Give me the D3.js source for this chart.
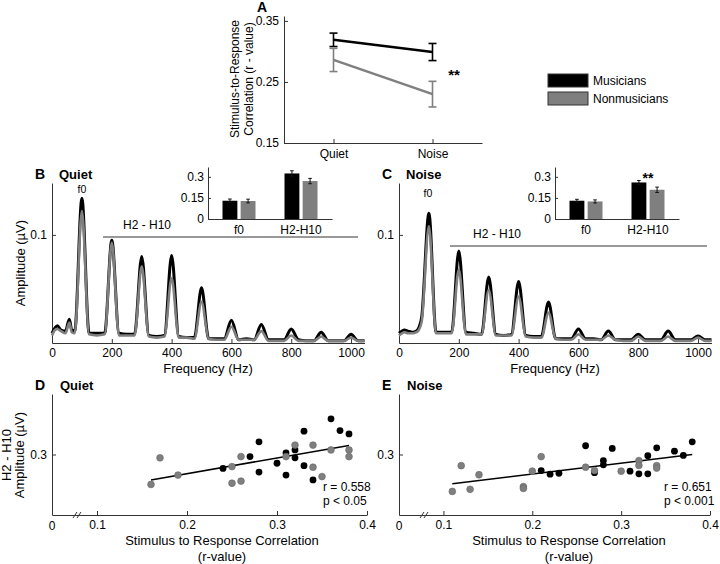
<!DOCTYPE html>
<html lang="en">
<head>
<meta charset="utf-8">
<title>Stimulus-to-response correlation, musicians vs nonmusicians</title>
<script src="https://cdn.jsdelivr.net/npm/d3@7"></script>
<style>
  body { margin: 0; background: #fff; }
  svg text { font-family: "Liberation Sans", Arial, Helvetica, sans-serif; fill: #000; }
  .axis path, .axis line { stroke: #333; stroke-width: 1; }
  .axis text { font-size: 12px; }
  .title { font-size: 13px; }
  .letter { font-size: 14px; font-weight: bold; }
  .ptitle { font-size: 13px; font-weight: bold; }
</style>
</head>
<body>
<div id="fig"></div>
<script>
// ---------- values ----------
var groups = ["Musicians", "Nonmusicians"];
var conditions = ["Quiet", "Noise"];

// A: stimulus-to-response correlation (mean, s.e.)
var musCorr = [0.319, 0.299];
var musCorrErr = [0.011, 0.014];
var nonCorr = [0.286, 0.230];
var nonCorrErr = [0.019, 0.021];

// B, C: spectra (Hz, amplitude in uV)
var spectrumHz = [0, 10, 18, 30, 45, 58, 66, 76, 100, 124, 150, 176, 200, 224, 250, 276, 300, 324, 350, 376,
                  400, 424, 450, 476, 500, 524, 550, 576, 600, 624, 650, 676, 700, 724, 750, 776, 800, 824,
                  850, 876, 900, 924, 950, 976, 1000, 1024, 1045];
var quietMusAmp = [0.009, 0.014, 0.016, 0.012, 0.011, 0.022, 0.012, 0.011, 0.134, 0.009, 0.009, 0.009, 0.095, 0.009,
                   0.008, 0.008, 0.080, 0.007, 0.006, 0.007, 0.081, 0.006, 0.005, 0.005, 0.051, 0.004, 0.004, 0.004,
                   0.021, 0.003, 0.004, 0.003, 0.017, 0.003, 0.003, 0.003, 0.013, 0.003, 0.002, 0.002, 0.010, 0.002,
                   0.002, 0.002, 0.008, 0.002, 0.002];
var quietNonAmp = [0.007, 0.012, 0.013, 0.011, 0.009, 0.019, 0.010, 0.009, 0.122, 0.008, 0.007, 0.008, 0.093, 0.007,
                   0.007, 0.007, 0.071, 0.006, 0.005, 0.006, 0.060, 0.005, 0.005, 0.004, 0.038, 0.004, 0.003, 0.003,
                   0.015, 0.003, 0.003, 0.003, 0.011, 0.002, 0.002, 0.002, 0.007, 0.002, 0.002, 0.002, 0.006, 0.002,
                   0.002, 0.002, 0.005, 0.002, 0.002];
var noiseMusAmp = [0.009, 0.011, 0.012, 0.011, 0.010, 0.011, 0.014, 0.024, 0.120, 0.010, 0.010, 0.010, 0.085, 0.010,
                   0.009, 0.008, 0.061, 0.008, 0.007, 0.008, 0.057, 0.007, 0.006, 0.006, 0.038, 0.004, 0.004, 0.004,
                   0.013, 0.004, 0.004, 0.003, 0.011, 0.003, 0.003, 0.003, 0.008, 0.003, 0.003, 0.003, 0.011, 0.003,
                   0.003, 0.003, 0.0065, 0.003, 0.003];
var noiseNonAmp = [0.007, 0.009, 0.010, 0.009, 0.009, 0.010, 0.012, 0.020, 0.108, 0.009, 0.009, 0.009, 0.068, 0.008,
                   0.008, 0.008, 0.049, 0.007, 0.007, 0.007, 0.043, 0.006, 0.005, 0.005, 0.028, 0.004, 0.003, 0.003,
                   0.008, 0.003, 0.003, 0.003, 0.007, 0.003, 0.002, 0.002, 0.006, 0.002, 0.002, 0.002, 0.006, 0.002,
                   0.002, 0.002, 0.005, 0.002, 0.002];

// insets: mean amplitude per band
var bands = ["f0", "H2-H10"];
var quietBarMus = [0.130, 0.324];
var quietBarMusErr = [0.012, 0.019];
var quietBarNon = [0.128, 0.270];
var quietBarNonErr = [0.013, 0.019];
var noiseBarMus = [0.130, 0.260];
var noiseBarMusErr = [0.010, 0.014];
var noiseBarNon = [0.125, 0.208];
var noiseBarNonErr = [0.011, 0.019];

// D: quiet, r-value vs H2-H10 amplitude
var quietMusR   = [0.24, 0.27, 0.28, 0.28, 0.30, 0.31, 0.31, 0.32, 0.32, 0.33, 0.33, 0.34, 0.36, 0.37, 0.38];
var quietMusH   = [0.254, 0.293, 0.342, 0.242, 0.271, 0.305, 0.232, 0.315, 0.289, 0.377, 0.263, 0.216, 0.418, 0.379, 0.368];
var quietNonR   = [0.16, 0.17, 0.19, 0.25, 0.25, 0.26, 0.26, 0.31, 0.32, 0.34, 0.34, 0.35, 0.36, 0.38, 0.38];
var quietNonH   = [0.201, 0.289, 0.232, 0.260, 0.205, 0.293, 0.212, 0.293, 0.331, 0.331, 0.258, 0.227, 0.315, 0.315, 0.293];
var quietFitR   = [0.16, 0.38];
var quietFitH   = [0.216, 0.330];

// E: noise
var noiseMusR   = [0.21, 0.22, 0.23, 0.26, 0.27, 0.28, 0.28, 0.29, 0.31, 0.32, 0.33, 0.33, 0.34, 0.36, 0.37, 0.38];
var noiseMusH   = [0.247, 0.235, 0.238, 0.329, 0.240, 0.280, 0.266, 0.320, 0.245, 0.236, 0.296, 0.236, 0.322, 0.311, 0.297, 0.342];
var noiseNonR   = [0.11, 0.12, 0.13, 0.14, 0.19, 0.19, 0.20, 0.21, 0.26, 0.27, 0.30, 0.32, 0.32, 0.34, 0.34];
var noiseNonH   = [0.178, 0.263, 0.185, 0.233, 0.194, 0.188, 0.245, 0.293, 0.258, 0.247, 0.245, 0.280, 0.264, 0.263, 0.255];
var noiseFitR   = [0.11, 0.38];
var noiseFitH   = [0.203, 0.300];

var black = "#000000";
var grey = "#7f7f7f";

var svg = d3.select("#fig").append("svg")
    .attr("width", 720).attr("height", 564)
    .style("background", "#fff");

drawPanelA();
drawSpectrum(52, quietMusAmp, quietNonAmp, {letter: "B", title: "Quiet", f0y: 193, f0x: 82,
    harmY: 237, harmX: [103, 358], harmLabelX: 147, yTitle: true});
drawSpectrum(399, noiseMusAmp, noiseNonAmp, {letter: "C", title: "Noise", f0y: 197, f0x: 428,
    harmY: 246, harmX: [450, 707], harmLabelX: 497, yTitle: false});
drawInset(208, quietBarMus, quietBarMusErr, quietBarNon, quietBarNonErr, false);
drawInset(555, noiseBarMus, noiseBarMusErr, noiseBarNon, noiseBarNonErr, true);
drawScatter(52, 315, quietMusR, quietMusH, quietNonR, quietNonH, quietFitR, quietFitH,
    {letter: "D", title: "Quiet", r: "r = 0.558", p: "p < 0.05", statX: 323, yTitle: true});
drawScatter(399, 311, noiseMusR, noiseMusH, noiseNonR, noiseNonH, noiseFitR, noiseFitH,
    {letter: "E", title: "Noise", r: "r = 0.651", p: "p < 0.001", statX: 664, yTitle: false});

// inward ticks, matlab style
function styleAxis(sel) {
    sel.attr("class", "axis");
    sel.select(".domain").attr("fill", "none");
}

function drawPanelA() {
    var x = d3.scalePoint().domain(conditions).range([284, 482]).padding(0.5);
    var y = d3.scaleLinear().domain([0.15, 0.358]).range([143, 16]);
    var g = svg.append("g");

    g.append("g").attr("transform", "translate(284,0)")
        .call(d3.axisLeft(y).tickValues([0.15, 0.25, 0.35]).tickFormat(d3.format(".2f"))
            .tickSizeInner(-4).tickSizeOuter(0).tickPadding(5))
        .call(styleAxis);
    g.append("g").attr("transform", "translate(0,143)")
        .call(d3.axisBottom(x).tickSizeInner(-4).tickSizeOuter(0).tickPadding(6))
        .call(styleAxis);

    var series = [
        {mean: musCorr, err: musCorrErr, color: black},
        {mean: nonCorr, err: nonCorrErr, color: grey}
    ];
    var line = d3.line().x(function (d, i) { return x(conditions[i]); }).y(function (d) { return y(d); });
    series.forEach(function (s) {
        g.append("path").attr("d", line(s.mean)).attr("fill", "none")
            .attr("stroke", s.color).attr("stroke-width", 2.4);
        s.mean.forEach(function (m, i) {
            var cx = x(conditions[i]);
            var y0 = y(m - s.err[i]), y1 = y(m + s.err[i]);
            g.append("line").attr("x1", cx).attr("x2", cx).attr("y1", y0).attr("y2", y1)
                .attr("stroke", s.color).attr("stroke-width", 1.6);
            [y0, y1].forEach(function (yy) {
                g.append("line").attr("x1", cx - 4).attr("x2", cx + 4).attr("y1", yy).attr("y2", yy)
                    .attr("stroke", s.color).attr("stroke-width", 1.6);
            });
        });
    });

    g.append("text").attr("x", 454).attr("y", 80).attr("text-anchor", "middle")
        .style("font-size", "15px").style("font-weight", "bold").text("**");

    g.append("text").attr("class", "title").attr("transform", "translate(239,79) rotate(-90)")
        .attr("text-anchor", "middle").style("font-size", "12px").text("Stimulus-to-Response");
    g.append("text").attr("class", "title").attr("transform", "translate(253,79) rotate(-90)")
        .attr("text-anchor", "middle").style("font-size", "12px").text("Correlation (r - value)");

    g.append("text").attr("class", "letter").attr("x", 262).attr("y", 12)
        .attr("text-anchor", "middle").text("A");

    // legend
    var leg = g.append("g").attr("transform", "translate(548,74)");
    groups.forEach(function (name, i) {
        leg.append("rect").attr("x", 0).attr("y", i * 18).attr("width", 40).attr("height", 13)
            .attr("fill", i === 0 ? black : grey).attr("stroke", "#333").attr("stroke-width", 1);
        leg.append("text").attr("x", 45).attr("y", i * 18 + 11).style("font-size", "12px").text(name);
    });
}

function drawSpectrum(x0, musAmp, nonAmp, o) {
    var x = d3.scaleLinear().domain([0, 1045]).range([x0, x0 + 312.5]);
    var y = d3.scaleLinear().domain([0, 0.148]).range([343, 183]);
    var g = svg.append("g");

    g.append("g").attr("transform", "translate(" + x0 + ",0)")
        .call(d3.axisLeft(y).tickValues([0.1]).tickFormat(d3.format(".1f"))
            .tickSizeInner(-4).tickSizeOuter(0).tickPadding(5))
        .call(styleAxis);
    g.append("g").attr("transform", "translate(0,343)")
        .call(d3.axisBottom(x).tickValues([0, 200, 400, 600, 800, 1000]).tickFormat(d3.format("d"))
            .tickSizeInner(-4).tickSizeOuter(0).tickPadding(5))
        .call(styleAxis);

    var line = d3.line().curve(d3.curveMonotoneX)
        .x(function (d, i) { return x(spectrumHz[i]); })
        .y(function (d) { return y(d); });
    g.append("path").attr("d", line(musAmp)).attr("fill", "none")
        .attr("stroke", black).attr("stroke-width", 3).attr("stroke-linejoin", "round");
    g.append("path").attr("d", line(nonAmp)).attr("fill", "none")
        .attr("stroke", grey).attr("stroke-width", 2.6).attr("stroke-linejoin", "round");

    g.append("text").attr("x", o.f0x).attr("y", o.f0y).attr("text-anchor", "middle")
        .style("font-size", "10.5px").text("f0");
    g.append("line").attr("x1", o.harmX[0]).attr("x2", o.harmX[1]).attr("y1", o.harmY).attr("y2", o.harmY)
        .attr("stroke", "#333").attr("stroke-width", 1);
    g.append("text").attr("x", o.harmLabelX)
        .attr("y", o.harmY - 8).attr("text-anchor", "middle").style("font-size", "12px").text("H2 - H10");

    g.append("text").attr("class", "letter").attr("x", x0 - 17).attr("y", 179).text(o.letter);
    g.append("text").attr("class", "ptitle").attr("x", x0 + 7).attr("y", 179).text(o.title);

    g.append("text").attr("class", "title").attr("x", x0 + 156).attr("y", 373)
        .attr("text-anchor", "middle").text("Frequency (Hz)");
    if (o.yTitle) {
        g.append("text").attr("class", "title").attr("transform", "translate(25,263) rotate(-90)")
            .attr("text-anchor", "middle").text("Amplitude (\u00b5V)");
    }
}

function drawInset(x0, musV, musE, nonV, nonE, star) {
    var xo = d3.scaleBand().domain(bands).range([x0, x0 + 124]);
    var xi = d3.scaleBand().domain(groups).range([0, 33]).paddingInner(0.18);
    var y = d3.scaleLinear().domain([0, 0.37]).range([219, 167]);
    var g = svg.append("g");

    g.append("g").attr("transform", "translate(" + x0 + ",0)")
        .call(d3.axisLeft(y).tickValues([0, 0.15, 0.3])
            .tickFormat(function (d) { return d === 0 ? "0" : d3.format(".2~f")(d); })
            .tickSizeInner(-3).tickSizeOuter(0).tickPadding(4))
        .call(styleAxis);
    g.append("g").attr("transform", "translate(0,219)")
        .call(d3.axisBottom(xo).tickSize(0).tickPadding(6))
        .call(styleAxis);

    var rows = [
        {vals: musV, errs: musE, color: black, key: groups[0]},
        {vals: nonV, errs: nonE, color: grey, key: groups[1]}
    ];
    rows.forEach(function (r) {
        var bx = function (i) { return xo(bands[i]) + xo.bandwidth() / 2 - 16.5 + xi(r.key); };
        g.selectAll(null).data(r.vals).enter().append("rect")
            .attr("x", function (d, i) { return bx(i); })
            .attr("y", function (d) { return y(d); })
            .attr("width", xi.bandwidth())
            .attr("height", function (d) { return 219 - y(d); })
            .attr("fill", r.color);
        r.vals.forEach(function (v, i) {
            var cx = bx(i) + xi.bandwidth() / 2;
            var ya = y(v - r.errs[i]), yb = y(v + r.errs[i]);
            g.append("line").attr("x1", cx).attr("x2", cx).attr("y1", ya).attr("y2", yb)
                .attr("stroke", "#111").attr("stroke-width", 1);
            [ya, yb].forEach(function (yy) {
                g.append("line").attr("x1", cx - 1.8).attr("x2", cx + 1.8).attr("y1", yy).attr("y2", yy)
                    .attr("stroke", "#111").attr("stroke-width", 1);
            });
        });
    });
    if (star) {
        g.append("text").attr("x", xo("H2-H10") + xo.bandwidth() / 2).attr("y", 183)
            .attr("text-anchor", "middle").style("font-size", "14px").style("font-weight", "bold").text("**");
    }
}

function drawScatter(x0, w, musR, musH, nonR, nonH, fitR, fitH, o) {
    var x = d3.scaleLinear().domain([0.05, 0.4]).range([x0, x0 + w]);
    var y = d3.scaleLinear().domain([0.1, 0.5]).range([515, 394]);
    var g = svg.append("g");

    g.append("g").attr("transform", "translate(" + x0 + ",0)")
        .call(d3.axisLeft(y).tickValues([0.3]).tickFormat(d3.format(".1f"))
            .tickSizeInner(-4).tickSizeOuter(0).tickPadding(5))
        .call(styleAxis);
    g.append("g").attr("transform", "translate(0,515)")
        .call(d3.axisBottom(x).tickValues([0.1, 0.2, 0.3, 0.4]).tickFormat(d3.format(".1f"))
            .tickSizeInner(-4).tickSizeOuter(0).tickPadding(5))
        .call(styleAxis);
    // axis break and the "0" at its start
    g.append("text").attr("x", x0).attr("y", 530).attr("text-anchor", "middle")
        .style("font-size", "12px").text("0");
    [0, 4].forEach(function (dx) {
        g.append("line").attr("x1", x0 + 21 + dx).attr("y1", 518).attr("x2", x0 + 25 + dx).attr("y2", 512)
            .attr("stroke", "#333").attr("stroke-width", 1);
    });

    g.append("line").attr("x1", x(fitR[0])).attr("y1", y(fitH[0]))
        .attr("x2", x(fitR[1])).attr("y2", y(fitH[1]))
        .attr("stroke", black).attr("stroke-width", 1.5);

    g.selectAll(null).data(musR).enter().append("circle")
        .attr("cx", function (d) { return x(d); })
        .attr("cy", function (d, i) { return y(musH[i]); })
        .attr("r", 3.4).attr("fill", black);
    g.selectAll(null).data(nonR).enter().append("circle")
        .attr("cx", function (d) { return x(d); })
        .attr("cy", function (d, i) { return y(nonH[i]); })
        .attr("r", 3.4).attr("fill", grey).attr("stroke", "#666").attr("stroke-width", 0.6);

    g.append("text").attr("x", o.statX).attr("y", 491).style("font-size", "12px").text(o.r);
    g.append("text").attr("x", o.statX).attr("y", 505).style("font-size", "12px").text(o.p);

    g.append("text").attr("class", "letter").attr("x", x0 - 17).attr("y", 390).text(o.letter);
    g.append("text").attr("class", "ptitle").attr("x", x0 + 8).attr("y", 390).text(o.title);

    g.append("text").attr("class", "title").attr("x", x0 + 170).attr("y", 545)
        .attr("text-anchor", "middle").text("Stimulus to Response Correlation");
    g.append("text").attr("class", "title").attr("x", x0 + 170).attr("y", 561)
        .attr("text-anchor", "middle").text("(r-value)");
    if (o.yTitle) {
        g.append("text").attr("class", "title").attr("transform", "translate(11,455) rotate(-90)")
            .attr("text-anchor", "middle").text("H2 - H10");
        g.append("text").attr("class", "title").attr("transform", "translate(24,455) rotate(-90)")
            .attr("text-anchor", "middle").text("Amplitude (\u00b5V)");
    }
}
</script>
</body>
</html>
